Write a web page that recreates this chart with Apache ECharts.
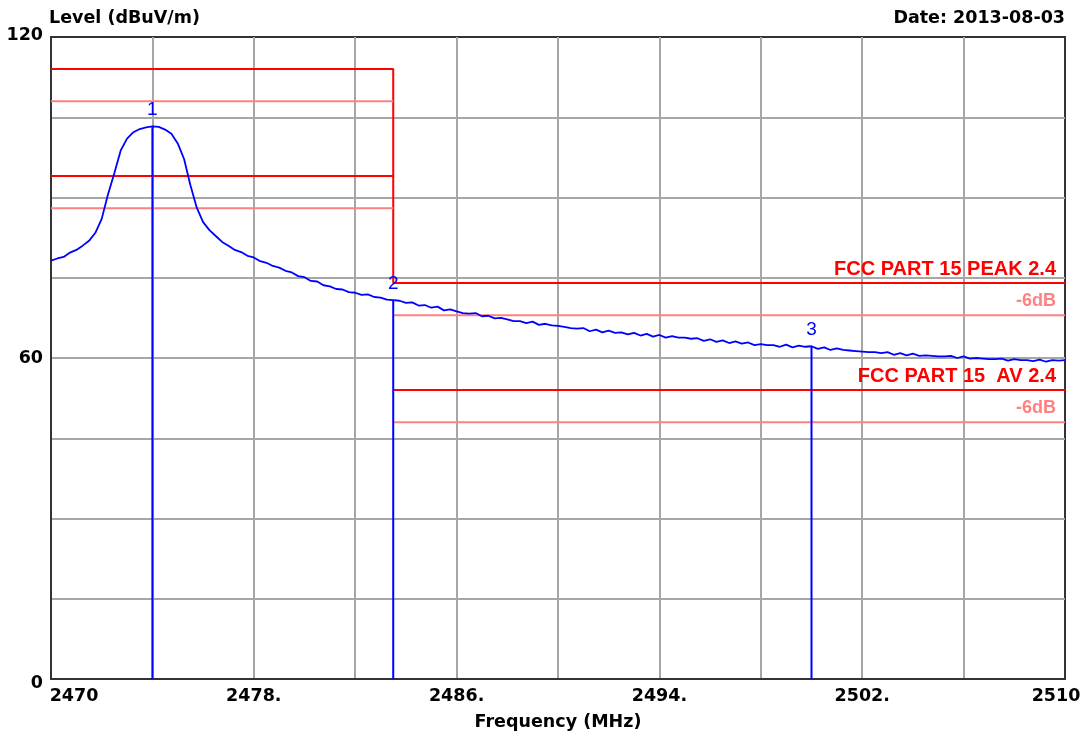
<!DOCTYPE html>
<html>
<head>
<meta charset="utf-8">
<title>Level (dBuV/m)</title>
<script src="https://cdn.jsdelivr.net/npm/echarts@6.0.0/dist/echarts.min.js"></script>
<style>
  html, body { margin: 0; padding: 0; background: #fff; }
  #chart { width: 1086px; height: 738px; }
</style>
</head>
<body>
<div id="chart"></div>
<script>
// sweep trace (MHz / dBuV/m)
var traceFreq = [
  2470, 2470.25, 2470.5, 2470.75, 2471, 2471.25, 2471.5, 2471.75, 2472, 2472.25,
  2472.5, 2472.75, 2473, 2473.25, 2473.5, 2473.75, 2474, 2474.25, 2474.5, 2474.75,
  2475, 2475.25, 2475.5, 2475.75, 2476, 2476.25, 2476.5, 2476.75, 2477, 2477.25,
  2477.5, 2477.75, 2478, 2478.25, 2478.5, 2478.75, 2479, 2479.25, 2479.5, 2479.75,
  2480, 2480.25, 2480.5, 2480.75, 2481, 2481.25, 2481.5, 2481.75, 2482, 2482.25,
  2482.5, 2482.75, 2483, 2483.25, 2483.5, 2483.75, 2484, 2484.25, 2484.5, 2484.75,
  2485, 2485.25, 2485.5, 2485.75, 2486, 2486.25, 2486.5, 2486.75, 2487, 2487.25,
  2487.5, 2487.75, 2488, 2488.25, 2488.5, 2488.75, 2489, 2489.25, 2489.5, 2489.75,
  2490, 2490.25, 2490.5, 2490.75, 2491, 2491.25, 2491.5, 2491.75, 2492, 2492.25,
  2492.5, 2492.75, 2493, 2493.25, 2493.5, 2493.75, 2494, 2494.25, 2494.5, 2494.75,
  2495, 2495.25, 2495.5, 2495.75, 2496, 2496.25, 2496.5, 2496.75, 2497, 2497.25,
  2497.5, 2497.75, 2498, 2498.25, 2498.5, 2498.75, 2499, 2499.25, 2499.5, 2499.75,
  2500, 2500.25, 2500.5, 2500.75, 2501, 2501.25, 2501.5, 2501.75, 2502, 2502.25,
  2502.5, 2502.75, 2503, 2503.25, 2503.5, 2503.75, 2504, 2504.25, 2504.5, 2504.75,
  2505, 2505.25, 2505.5, 2505.75, 2506, 2506.25, 2506.5, 2506.75, 2507, 2507.25,
  2507.5, 2507.75, 2508, 2508.25, 2508.5, 2508.75, 2509, 2509.25, 2509.5, 2509.75,
  2510
];
var traceLevel = [
  78.2, 78.6, 78.9, 79.7, 80.2, 81.0, 81.9, 83.4, 86.0, 90.6,
  94.6, 98.8, 101.0, 102.2, 102.8, 103.1, 103.3, 103.2, 102.7, 101.9,
  100.1, 97.2, 92.3, 88.1, 85.4, 83.9, 82.8, 81.7, 81.0, 80.2,
  79.8, 79.1, 78.8, 78.1, 77.8, 77.2, 76.9, 76.3, 76.0, 75.3,
  75.1, 74.4, 74.3, 73.6, 73.4, 72.9, 72.8, 72.3, 72.2, 71.8,
  71.9, 71.4, 71.3, 70.9, 70.8, 70.7, 70.3, 70.4, 69.8, 69.9,
  69.4, 69.6, 68.9, 69.1, 68.7, 68.4, 68.3, 68.4, 67.8, 67.9,
  67.4, 67.5, 67.2, 66.9, 66.9, 66.5, 66.8, 66.2, 66.4, 66.1,
  66.0, 65.8, 65.6, 65.5, 65.6, 65.0, 65.3, 64.8, 65.1, 64.7,
  64.8, 64.4, 64.7, 64.2, 64.5, 64.0, 64.3, 63.8, 64.1, 63.8,
  63.8, 63.6, 63.7, 63.2, 63.5, 63.0, 63.3, 62.8, 63.1, 62.7,
  62.9, 62.4, 62.6, 62.4, 62.4, 62.1, 62.5, 62.0, 62.3, 62.1,
  62.2, 61.7, 62.0, 61.5, 61.8, 61.5, 61.4, 61.3, 61.2, 61.1,
  61.1, 60.9, 61.1, 60.6, 60.9, 60.5, 60.8, 60.4, 60.5, 60.4,
  60.3, 60.3, 60.4, 60.0, 60.3, 59.9, 60.0, 59.9, 59.8, 59.8,
  59.9, 59.5, 59.8, 59.6, 59.6, 59.4, 59.7, 59.3, 59.6, 59.5,
  59.6
];

// markers 1..3
var markerNames = ['1', '2', '3'];
var markerFreq = [2474.0, 2483.5, 2500.0];
var markerLevel = [103.3, 70.8, 62.2];

// limit lines: left of the band edge / right of the band edge
var limitEdges = [2470, 2483.5, 2510];
var peakLimit = [114, 74];
var peakLimit6 = [108, 68];
var avLimit = [94, 54];
var avLimit6 = [88, 48];
var limitLabelText = ['FCC PART 15 PEAK 2.4', '-6dB', 'FCC PART 15  AV 2.4', '-6dB'];
var limitLabelLevel = [74, 68, 54, 48];

// axis ticks
var sweepStart = 2470;
var xTickFreq = [2470, 2478, 2486, 2494, 2502, 2510];
var xTickLabels = ['2470', '2478.', '2486.', '2494.', '2502.', '2510'];
var yTickValues = [0, 60, 120];
var yTickLabels = ['0', '60', '120'];

var RED = '#ff0000', PINK = '#ff8080', BLUE = '#0000ff';
var blackFont = { color: '#000', fontFamily: 'DejaVu Sans', fontWeight: 'bold', fontSize: 17.5 };

//the x axis runs in MHz from the sweep start so the 4 MHz grid starts at 0
function toAxis(freq){
	return freq - sweepStart;
}

function pairs(freqs, levels){
	var out = [];
	freqs.forEach(function(f, i){
		out.push([toAxis(f), levels[i]]);
	});
	return out;
}

function limitSeries(name, levels, color, stepped){
	var list = [];
	if (stepped) {
		list.push({
			name: name, type: 'line', z: 2, silent: true, symbol: 'none',
			lineStyle: { color: color, width: 2 },
			data: pairs([limitEdges[0], limitEdges[1], limitEdges[1], limitEdges[2]],
				[levels[0], levels[0], levels[1], levels[1]])
		});
		return list;
	}
	//two separate pieces, one each side of the band edge
	for (var k = 0; k < 2; k++) {
		list.push({
			name: name + k, type: 'line', z: 2, silent: true, symbol: 'none',
			lineStyle: { color: color, width: 2 },
			data: pairs([limitEdges[k], limitEdges[k + 1]], [levels[k], levels[k]])
		});
	}
	return list;
}

function renderMarker(params, api){
	var top = api.coord([api.value(0), api.value(1)]);
	var bottom = api.coord([api.value(0), 0]);
	return {
		type: 'group',
		children: [
			{ type: 'line', shape: { x1: top[0], y1: top[1], x2: bottom[0], y2: bottom[1] },
				style: { stroke: BLUE, lineWidth: 2 } },
			{ type: 'text', x: top[0], y: top[1] - 7,
				style: { text: markerNames[params.dataIndex], fill: BLUE, fontSize: 19,
					fontFamily: 'Liberation Sans', align: 'center', verticalAlign: 'bottom' } }
		]
	};
}

function renderLimitLabel(params, api){
	var p = api.coord([api.value(0), api.value(1)]);
	var text = limitLabelText[params.dataIndex];
	var minus6 = text === '-6dB';
	return {
		type: 'text', x: p[0] - 9, y: p[1] - 14,
		style: { text: text, fill: minus6 ? PINK : RED, fontSize: minus6 ? 18 : 20,
			fontWeight: 'bold', fontFamily: 'Liberation Sans', align: 'right', verticalAlign: 'middle' }
	};
}

function xLabel(v){
	var idx = xTickFreq.indexOf(v + sweepStart);
	if (idx < 0) return '';
	if (idx == 0) return '{first|' + xTickLabels[idx] + '}';
	if (idx == xTickFreq.length - 1) return '{last|' + xTickLabels[idx] + '}';
	return xTickLabels[idx];
}

function yLabel(v){
	var idx = yTickValues.indexOf(v);
	if (idx < 0) return '';
	if (idx == 0) return '{low|' + yTickLabels[idx] + '}';
	if (idx == yTickValues.length - 1) return '{high|' + yTickLabels[idx] + '}';
	return yTickLabels[idx];
}

var chart = echarts.init(document.getElementById('chart'));

var series = [].concat(
	limitSeries('peak', peakLimit, RED, true),
	limitSeries('peak6', peakLimit6, PINK, false),
	limitSeries('av', avLimit, RED, false),
	limitSeries('av6', avLimit6, PINK, false)
);
series.push({
	name: 'Level', type: 'line', z: 3, symbol: 'none',
	lineStyle: { color: BLUE, width: 1.8 },
	data: pairs(traceFreq, traceLevel)
});
series.push({
	name: 'markers', type: 'custom', z: 4, silent: true,
	renderItem: renderMarker,
	data: pairs(markerFreq, markerLevel)
});
series.push({
	name: 'limitLabels', type: 'custom', z: 4, silent: true,
	renderItem: renderLimitLabel,
	data: pairs(limitLabelText.map(function(){ return limitEdges[2]; }), limitLabelLevel)
});

var option = {
	animation: false,
	backgroundColor: '#fff',
	title: [
		{ text: 'Level (dBuV/m)', left: 49, top: 9, padding: 0, textStyle: blackFont },
		{ text: 'Date: 2013-08-03', right: 21, top: 9, padding: 0, textStyle: blackFont }
	],
	grid: {
		left: 51, top: 37, right: 21, bottom: 59,
		show: true, borderColor: '#333', borderWidth: 2, backgroundColor: '#fff'
	},
	xAxis: {
		type: 'value', min: 0, max: 40, interval: 4,
		axisLine: { show: true, onZero: false, lineStyle: { color: '#333', width: 2 } },
		axisTick: { show: false },
		splitLine: { show: true, showMinLine: false, showMaxLine: false, lineStyle: { color: '#a6a6a6', width: 2 } },
		axisLabel: Object.assign({
			margin: 8, hideOverlap: false, formatter: xLabel,
			rich: {
				first: Object.assign({ padding: [0, 0, 0, 46] }, blackFont),
				last: Object.assign({ padding: [0, 18, 0, 0] }, blackFont)
			}
		}, blackFont),
		name: 'Frequency (MHz)', nameLocation: 'middle', nameGap: 34,
		nameTextStyle: blackFont
	},
	yAxis: {
		type: 'value', min: 0, max: 120, interval: 15,
		axisLine: { show: true, onZero: false, lineStyle: { color: '#333', width: 2 } },
		axisTick: { show: false },
		splitLine: { show: true, showMinLine: false, showMaxLine: false, lineStyle: { color: '#a6a6a6', width: 2 } },
		axisLabel: Object.assign({
			margin: 8, hideOverlap: false, formatter: yLabel,
			rich: {
				low: Object.assign({ padding: [8, 0, 0, 0] }, blackFont),
				high: Object.assign({ padding: [0, 0, 4, 0] }, blackFont)
			}
		}, blackFont)
	},
	series: series
};
chart.setOption(option);
</script>
</body>
</html>
